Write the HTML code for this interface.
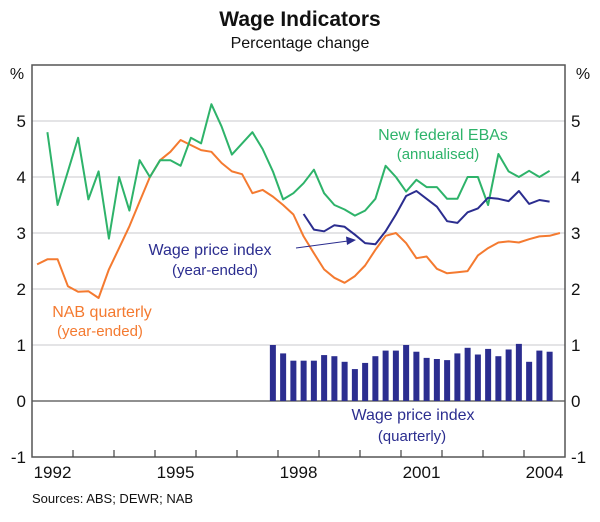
<!DOCTYPE html>
<html><head><meta charset="utf-8"><style>
body{margin:0;background:#fff;}
svg{display:block;font-family:"Liberation Sans",Arial,sans-serif;}
</style></head><body>
<svg id="c" width="600" height="522" viewBox="0 0 600 522" xmlns="http://www.w3.org/2000/svg">
<text x="300" y="26" text-anchor="middle" font-size="21" font-weight="bold" fill="#111">Wage Indicators</text>
<text x="300" y="48" text-anchor="middle" font-size="16" fill="#111">Percentage change</text>
<g id="grid"></g>
<g id="bars"></g>
<g id="lines"></g>
<g id="axes"></g>
<text x="17" y="79" text-anchor="middle" font-size="16" fill="#111">%</text>
<text x="583" y="79" text-anchor="middle" font-size="16" fill="#111">%</text>
<g font-size="16">
<text x="443" y="140" text-anchor="middle" fill="#2eb36a">New federal EBAs</text>
<text x="438" y="159" text-anchor="middle" font-size="15" fill="#2eb36a">(annualised)</text>
<text x="210" y="255" text-anchor="middle" fill="#2b2d8f">Wage price index</text>
<text x="215" y="275" text-anchor="middle" font-size="15" fill="#2b2d8f">(year-ended)</text>
<text x="102" y="317" text-anchor="middle" fill="#f47a30">NAB quarterly</text>
<text x="100" y="336" text-anchor="middle" font-size="15" fill="#f47a30">(year-ended)</text>
<text x="413" y="420" text-anchor="middle" fill="#2b2d8f">Wage price index</text>
<text x="412" y="441" text-anchor="middle" font-size="15" fill="#2b2d8f">(quarterly)</text>
</g>
<line x1="296" y1="248" x2="348" y2="241" stroke="#2b2d8f" stroke-width="1"/>
<polygon points="356,240 346,236.5 347,245" fill="#2b2d8f"/>
<text x="32" y="503" font-size="13" fill="#111">Sources: ABS; DEWR; NAB</text>
</svg>
<script>
const nabValues=[2.44,2.53,2.53,2.05,1.95,1.96,1.84,2.35,2.73,3.12,3.56,4.0,4.3,4.45,4.66,4.57,4.48,4.45,4.25,4.1,4.05,3.71,3.77,3.65,3.5,3.33,2.94,2.64,2.35,2.2,2.11,2.23,2.42,2.7,2.95,3.0,2.82,2.55,2.58,2.36,2.28,2.3,2.32,2.6,2.73,2.83,2.85,2.83,2.89,2.94,2.95,3.0];
const nabStart=0;
const ebaValues=[4.8,3.5,4.1,4.7,3.6,4.1,2.9,4.0,3.4,4.3,4.0,4.3,4.3,4.2,4.7,4.6,5.3,4.9,4.4,4.6,4.8,4.5,4.1,3.6,3.71,3.89,4.13,3.71,3.5,3.42,3.31,3.4,3.61,4.2,4.0,3.74,3.95,3.82,3.82,3.61,3.61,4.0,4.0,3.5,4.41,4.1,4.0,4.11,4.0,4.11];
const ebaStart=1;
const wpiYeValues=[3.34,3.06,3.03,3.14,3.11,2.97,2.82,2.8,3.03,3.33,3.66,3.75,3.61,3.47,3.21,3.18,3.37,3.44,3.63,3.61,3.57,3.75,3.52,3.59,3.56];
const wpiYeStart=26;
const wpiQValues=[1.0,0.85,0.72,0.72,0.72,0.82,0.8,0.7,0.57,0.68,0.8,0.9,0.9,1.0,0.88,0.77,0.75,0.73,0.85,0.95,0.83,0.93,0.8,0.92,1.02,0.7,0.9,0.88];
const wpiQStart=23;
const yTicks=[-1,0,1,2,3,4,5];
const yearLabels=["1992","1995","1998","2001","2004"];

const NS="http://www.w3.org/2000/svg";
const L=32,R=565,T=65,B=457;
const x0=1992,x1=2005,yMin=-1,yMax=6;
const xs=t=>L+(t-x0)/(x1-x0)*(R-L);
const ys=v=>B-(v-yMin)/(yMax-yMin)*(B-T);
const qT=i=>x0+(i+0.5)/4;
function mk(tag,attrs,parent){const e=document.createElementNS(NS,tag);for(const k in attrs)e.setAttribute(k,attrs[k]);parent.appendChild(e);return e;}
const grid=document.getElementById('grid'),axes=document.getElementById('axes'),bars=document.getElementById('bars'),lines=document.getElementById('lines');
yTicks.forEach(v=>{
  if(v>yMin){const g=mk('line',{x1:L,x2:R,y1:ys(v),y2:ys(v),stroke:v===0?'#222':'#c8c8cc','stroke-width':1},grid);
  
  }
  const a=mk('text',{x:26,y:ys(v)+6,'text-anchor':'end','font-size':17,fill:'#111'},axes);a.textContent=v;
  
  
  const b=mk('text',{x:571,y:ys(v)+6,'font-size':17,fill:'#111'},axes);b.textContent=v;
  
  
});
const fr=mk('rect',{x:L,y:T,width:R-L,height:B-T,fill:'none',stroke:'#555','stroke-width':1.5},axes);


for(let yr=x0+1;yr<x1;yr++){const t=mk('line',{x1:xs(yr),x2:xs(yr),y1:B,y2:B-7,stroke:'#444','stroke-width':1.2},axes);
  
  }
yearLabels.forEach(s=>{const y=+s;const t=mk('text',{x:xs(y+0.5),y:B+21,'text-anchor':'middle','font-size':17,fill:'#111'},axes);t.textContent=s;
  
  });
wpiQValues.forEach((v,i)=>{const cx=xs(qT(wpiQStart+i));const r=mk('rect',{x:cx-3,y:ys(v),width:6,height:ys(0)-ys(v),fill:'#2b2d8f'},bars);
  
  });
function line(vals,start,color,name){const pts=vals.map((v,i)=>xs(qT(start+i)).toFixed(1)+','+ys(v).toFixed(1)).join(' ');
  const p=mk('polyline',{points:pts,fill:'none',stroke:color,'stroke-width':2,'stroke-linejoin':'round'},lines);
  
  }
line(nabValues,nabStart,'#f47a30','nab-line');
line(ebaValues,ebaStart,'#2eb36a','eba-line');
line(wpiYeValues,wpiYeStart,'#2b2d8f','wpi-year-ended-line');
</script>
</body></html>
